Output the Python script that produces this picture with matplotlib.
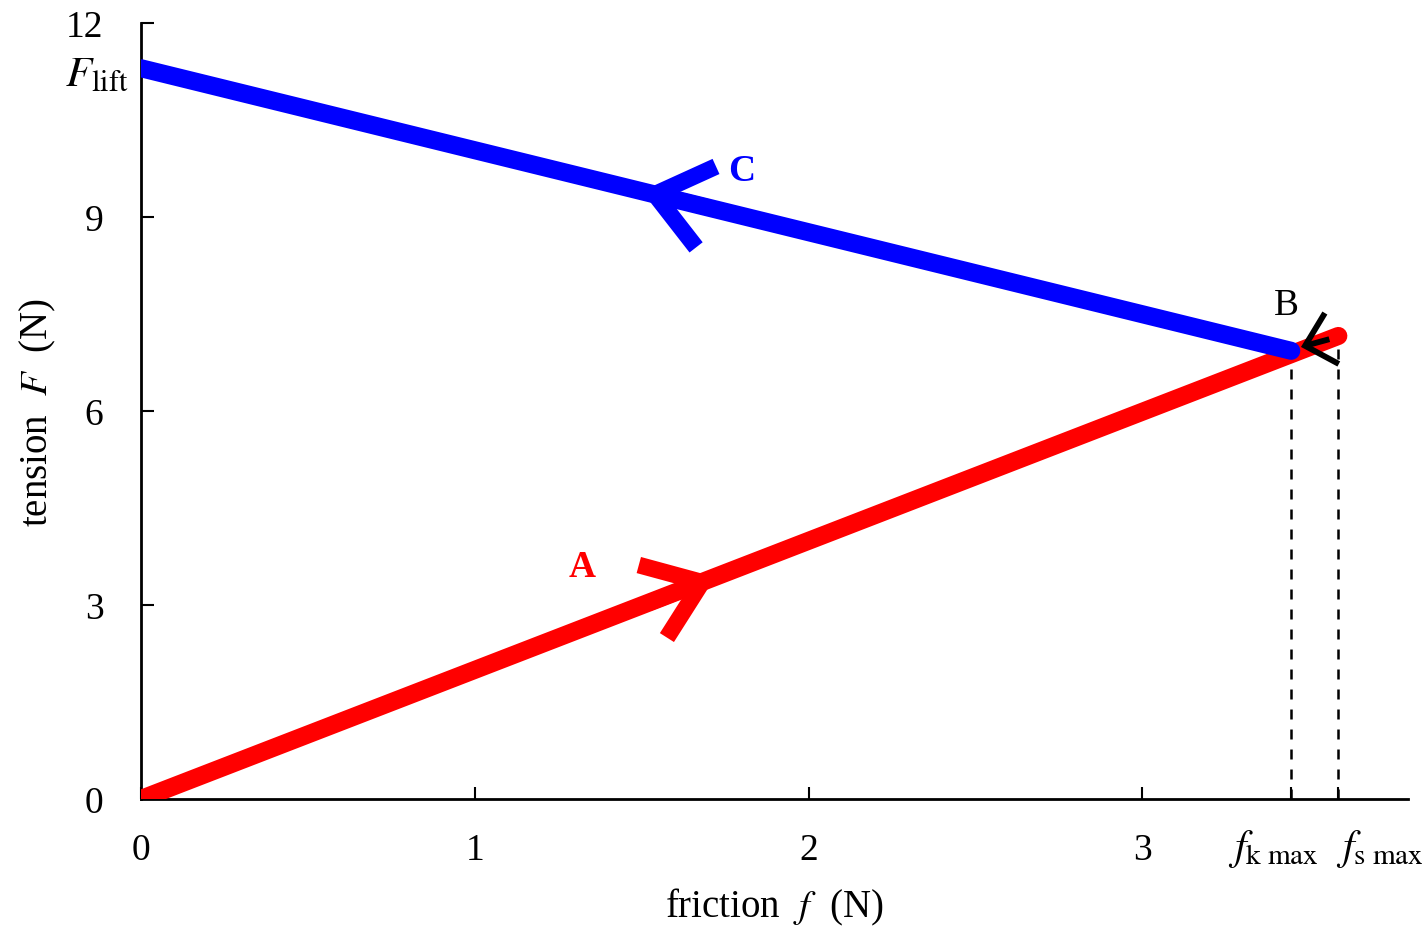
import matplotlib
matplotlib.use('Agg')
from matplotlib import pyplot as plt

plt.rcParams['font.family'] = ['Liberation Serif', 'DejaVu Serif']
plt.rcParams['mathtext.fontset'] = 'stix'

# Данные
f_k_max = 3.446
f_s_max = 3.587
F_lift = 11.3
F_B = 6.93
F_s = 7.16

# путь A: от начала координат до f_s max
path_a_x = [0.0, f_s_max]
path_a_y = [0.0, F_s]
# путь C: от B назад к F_lift
path_c_x = [f_k_max, 0.0]
path_c_y = [F_B, F_lift]

x_ticks = [0, 1, 2, 3, f_k_max, f_s_max]
x_tick_labels = ['0', '1', '2', '3', '', '']
y_ticks = [0, 3, 6, 9, 12]
y_tick_labels = ['0', '3', '6', '9', '12']

# стрелки: (куда, откуда) вдоль линий
arrow_a = ((1.72, 3.43), (1.52, 3.03))
arrow_c = ((1.50, 9.40), (1.70, 9.146))
arrow_b = ((3.475, 6.99), (3.56, 7.11))

fig = plt.figure(figsize=(14.22, 9.29), dpi=100)
ax = fig.add_axes([0.0992, 0.1389, 0.8908, 0.8353])

ax.plot(path_a_x, path_a_y, c='red', lw=13, solid_capstyle='round', zorder=5)
ax.plot(path_c_x, path_c_y, c='blue', lw=13, solid_capstyle='round', zorder=6)

# пунктир до f_k max и f_s max
ax.plot([f_k_max, f_k_max], [0, F_B], c='black', lw=1.8, ls=(0, (4, 4)), zorder=3)
ax.plot([f_s_max, f_s_max], [0, F_s], c='black', lw=1.8, ls=(0, (4, 4)), zorder=3)

for (tip, tail), color, lw, hl, hw in [
        (arrow_a, 'red', 12, 3.8, 2.8),
        (arrow_c, 'blue', 12, 3.8, 3.0),
        (arrow_b, 'black', 4.2, 2.0, 1.9)]:
    ax.annotate('', xy=tip, xytext=tail,
                arrowprops=dict(arrowstyle='->, head_length=%s, head_width=%s' % (hl, hw),
                                color=color, lw=lw, shrinkA=0, shrinkB=0,
                                joinstyle='miter', capstyle='butt'),
                zorder=7)

ax.text(1.32, 3.6, 'A', color='red', fontsize=27, fontweight='bold', ha='center', va='center')
ax.text(1.80, 9.72, 'C', color='blue', fontsize=27, fontweight='bold', ha='center', va='center')
ax.text(3.43, 7.65, 'B', color='black', fontsize=27, ha='center', va='center')

ax.annotate(r'$F_{\rm lift}$', xy=(0, F_lift), xytext=(-9, -5), textcoords='offset points',
            ha='right', va='center', fontsize=31)

# подписи f_k max и f_s max под осью
ax.annotate(r'$f_{\rm k\ max}$', xy=(f_k_max, 0), xytext=(20, -20), textcoords='offset points',
            ha='right', va='top', fontsize=30)
ax.annotate(r'$f_{\rm s\ max}$', xy=(f_s_max, 0), xytext=(-2, -20), textcoords='offset points',
            ha='left', va='top', fontsize=30)

ax.set_xlim(0, 3.795)
ax.set_ylim(0, 12)
ax.set_xticks(x_ticks)
ax.set_xticklabels(x_tick_labels)
ax.set_yticks(y_ticks)
ax.set_yticklabels(y_tick_labels)
ax.tick_params(axis='both', direction='in', length=9, width=1.5, labelsize=27)
ax.tick_params(axis='x', pad=24)
ax.tick_params(axis='y', pad=27)

ax.spines['top'].set_visible(False)
ax.spines['right'].set_visible(False)
ax.spines['left'].set_linewidth(2)
ax.spines['bottom'].set_linewidth(2)

ax.set_xlabel(r'friction  $f$  (N)', fontsize=28, labelpad=14)
ax.set_ylabel(r'tension  $F$  (N)', fontsize=28, labelpad=6)

fig.savefig('out.png', dpi=100)
